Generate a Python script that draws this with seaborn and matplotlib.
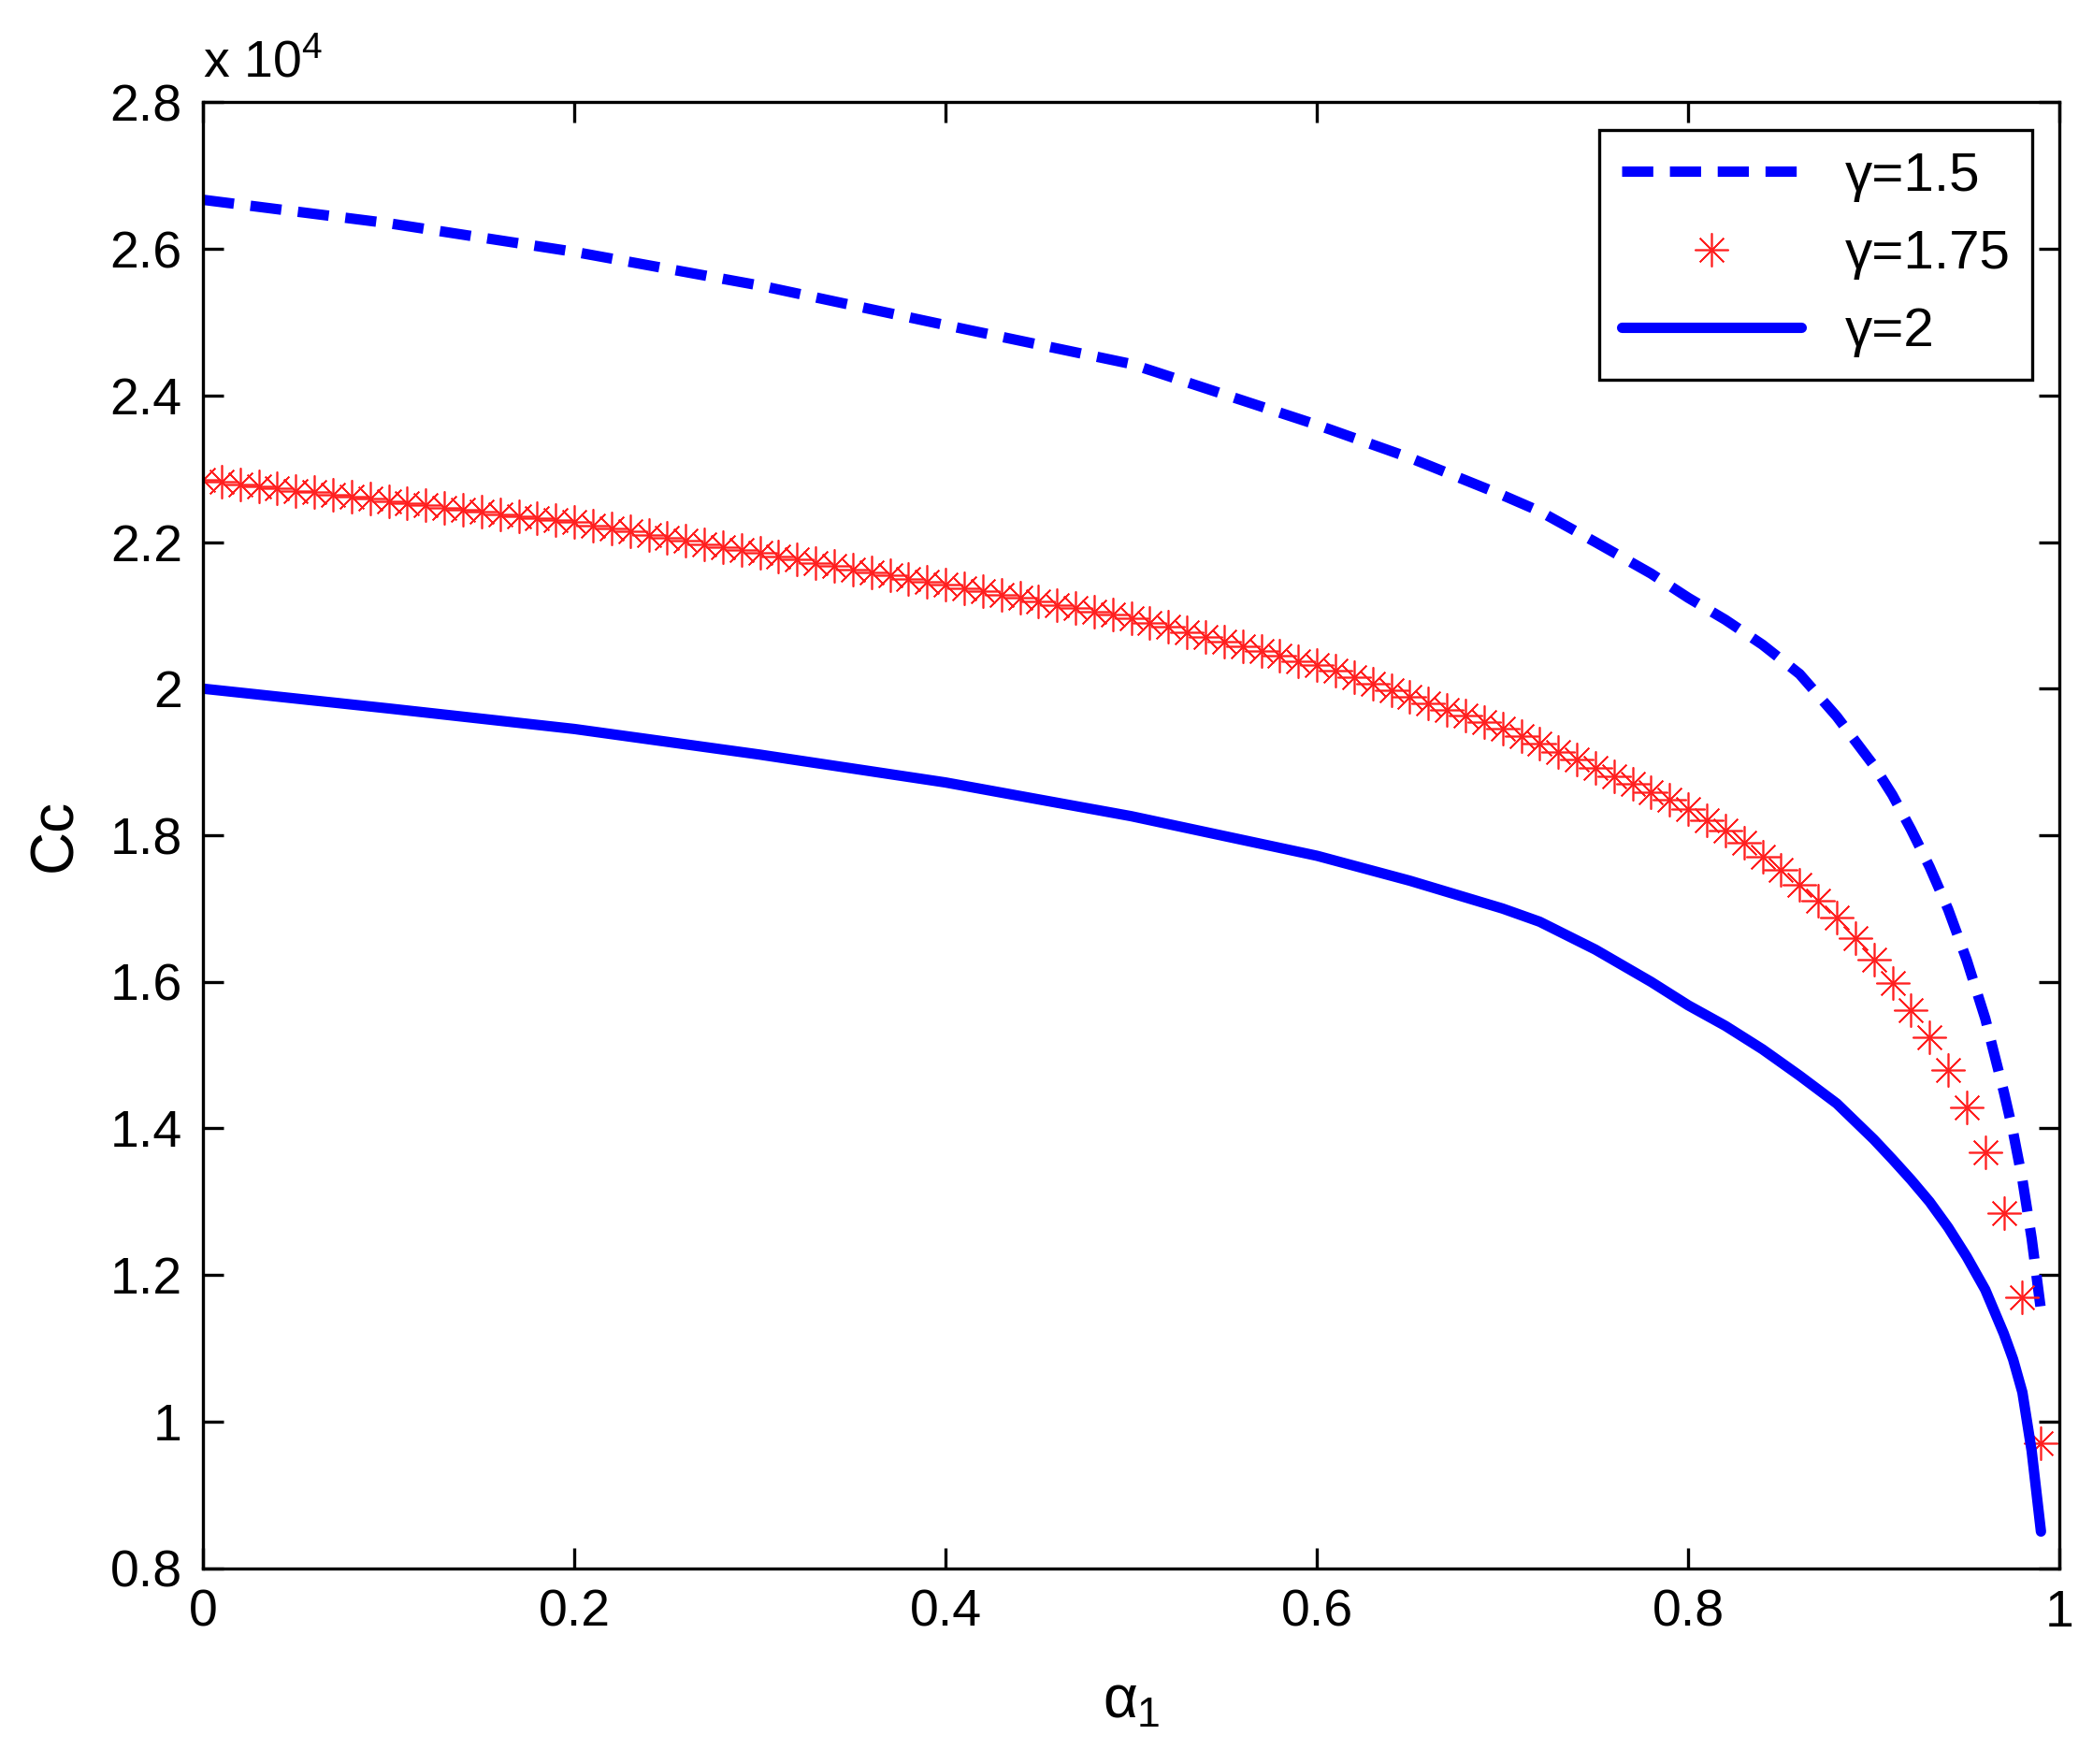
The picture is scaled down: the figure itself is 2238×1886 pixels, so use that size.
import numpy as np
import pandas as pd
import matplotlib
matplotlib.use("Agg")
import matplotlib.pyplot as plt
import seaborn as sns

# Values in units of 1e4
alpha_line = [0.0, 0.1, 0.2, 0.3, 0.4, 0.5, 0.6, 0.65, 0.7, 0.72, 0.75, 0.78, 0.8, 0.82, 0.84, 0.86, 0.88, 0.9,
              0.91, 0.92, 0.93, 0.94, 0.95, 0.96, 0.97, 0.975, 0.98, 0.985, 0.99]
cc_g15 = [2.667, 2.635, 2.596, 2.550, 2.496, 2.443, 2.360, 2.315, 2.264, 2.242, 2.200, 2.157, 2.124, 2.094, 2.060,
          2.020, 1.962, 1.895, 1.855, 1.808, 1.757, 1.699, 1.630, 1.550, 1.450, 1.395, 1.330, 1.250, 1.152]
cc_g2 = [2.000, 1.973, 1.945, 1.910, 1.872, 1.826, 1.772, 1.738, 1.700, 1.682, 1.644, 1.600, 1.568, 1.540, 1.508,
         1.472, 1.434, 1.385, 1.358, 1.330, 1.300, 1.265, 1.225, 1.180, 1.120, 1.085, 1.040, 0.960, 0.850]

alpha_star = [round(i * 0.01, 2) for i in range(100)]
cc_g175 = [2.285, 2.282, 2.279, 2.276, 2.273, 2.270, 2.268, 2.265, 2.262, 2.259,
           2.256, 2.253, 2.250, 2.247, 2.244, 2.241, 2.238, 2.235, 2.232, 2.230,
           2.227, 2.223, 2.219, 2.215, 2.210, 2.206, 2.202, 2.197, 2.193, 2.189,
           2.185, 2.180, 2.176, 2.172, 2.167, 2.163, 2.159, 2.155, 2.150, 2.146,
           2.142, 2.137, 2.133, 2.128, 2.124, 2.119, 2.114, 2.110, 2.105, 2.101,
           2.096, 2.090, 2.084, 2.077, 2.071, 2.064, 2.058, 2.051, 2.045, 2.038,
           2.032, 2.024, 2.016, 2.007, 1.998, 1.989, 1.980, 1.971, 1.963, 1.954,
           1.945, 1.935, 1.925, 1.914, 1.903, 1.892, 1.881, 1.870, 1.859, 1.848,
           1.836, 1.821, 1.806, 1.790, 1.771, 1.753, 1.733, 1.711, 1.688, 1.660,
           1.630, 1.598, 1.562, 1.524, 1.480, 1.429, 1.367, 1.285, 1.170, 0.970]

sns.set_style("ticks")
plt.rcParams['font.family'] = ['Liberation Sans', 'DejaVu Sans']
plt.rcParams['text.color'] = 'black'
plt.rcParams['axes.labelcolor'] = 'black'
plt.rcParams['xtick.color'] = 'black'
plt.rcParams['ytick.color'] = 'black'
plt.rcParams['mathtext.fontset'] = 'custom'
plt.rcParams['mathtext.rm'] = 'Liberation Sans'
plt.rcParams['mathtext.it'] = 'Liberation Sans'

fig = plt.figure(figsize=(11.19, 9.43), dpi=200)
ax = fig.add_axes([0.097, 0.111, 0.887, 0.831])

df1 = pd.DataFrame({"a": alpha_line, "c": cc_g15})
df2 = pd.DataFrame({"a": alpha_star, "c": cc_g175})
df3 = pd.DataFrame({"a": alpha_line, "c": cc_g2})

sns.lineplot(data=df1, x="a", y="c", ax=ax, color="#0000ff", lw=4, dashes=False,
             linestyle=(0, (3, 1.6)), label="γ=1.5")
sns.lineplot(data=df2, x="a", y="c", ax=ax, color="#ff2020", lw=0, marker=(8, 2, 0),
             markersize=13, markeredgewidth=0.6, markeredgecolor="#ff2020", label="γ=1.75")
sns.lineplot(data=df3, x="a", y="c", ax=ax, color="#0000ff", lw=4, label="γ=2")

ax.set_xlim(0, 1)
ax.set_ylim(0.8, 2.8)
ax.set_xticks([0, 0.2, 0.4, 0.6, 0.8, 1])
ax.set_xticklabels(["0", "0.2", "0.4", "0.6", "0.8", "1"])
ax.set_yticks([0.8, 1.0, 1.2, 1.4, 1.6, 1.8, 2.0, 2.2, 2.4, 2.6, 2.8])
ax.set_yticklabels(["0.8", "1", "1.2", "1.4", "1.6", "1.8", "2", "2.2", "2.4", "2.6", "2.8"])
ax.tick_params(direction="in", top=True, right=True, labelsize=20, length=8, width=1.2, pad=8)
for s in ax.spines.values():
    s.set_linewidth(1.2)
    s.set_color("black")
ax.set_xlabel(r"$\alpha_1$", fontsize=23, labelpad=14)
ax.set_ylabel("Cc", fontsize=23, labelpad=10)
ax.text(0.0, 1.01, r"x 10$^4$", transform=ax.transAxes, fontsize=20, ha="left", va="bottom")

leg = ax.legend(loc="upper right", fontsize=21, fancybox=False, framealpha=1,
                edgecolor="black", handlelength=3.3, borderaxespad=0.5)
leg.get_frame().set_linewidth(1.2)

fig.savefig("out.png", dpi=200)
